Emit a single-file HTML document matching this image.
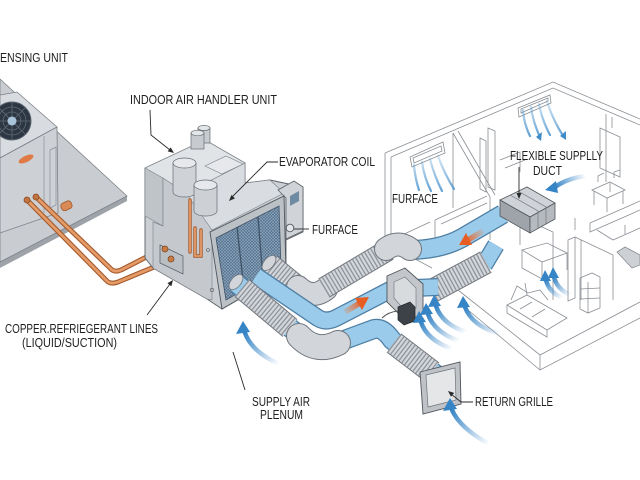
<!DOCTYPE html>
<html><head><meta charset="utf-8">
<style>
html,body{margin:0;padding:0;background:#fff;}
svg{display:block;}
text{font-family:"Liberation Sans",sans-serif;fill:#1e1e1e;font-size:12.5px;}
</style></head><body>
<svg width="640" height="480" viewBox="0 0 640 480" xmlns="http://www.w3.org/2000/svg">
<defs>
 <pattern id="mesh" width="3" height="3" patternUnits="userSpaceOnUse">
  <rect width="3" height="3" fill="#56718d"/>
  <path d="M0,0 L3,3 M3,0 L0,3" stroke="#8fa8bf" stroke-width="0.6"/>
 </pattern>
 <linearGradient id="g1" gradientUnits="userSpaceOnUse" x1="279" y1="364" x2="245" y2="333"><stop offset="0" stop-color="#3d88c8" stop-opacity="0"/><stop offset="1" stop-color="#3584c6"/></linearGradient>
 <linearGradient id="g2" gradientUnits="userSpaceOnUse" x1="489" y1="444" x2="452" y2="410"><stop offset="0" stop-color="#3d88c8" stop-opacity="0"/><stop offset="1" stop-color="#3584c6"/></linearGradient>
 <linearGradient id="g3a" gradientUnits="userSpaceOnUse" x1="452" y1="349" x2="421" y2="322"><stop offset="0" stop-color="#3d88c8" stop-opacity="0"/><stop offset="1" stop-color="#3584c6"/></linearGradient>
 <linearGradient id="g3b" gradientUnits="userSpaceOnUse" x1="459" y1="341" x2="428" y2="314"><stop offset="0" stop-color="#3d88c8" stop-opacity="0"/><stop offset="1" stop-color="#3584c6"/></linearGradient>
 <linearGradient id="g3c" gradientUnits="userSpaceOnUse" x1="466" y1="332" x2="436" y2="306"><stop offset="0" stop-color="#3d88c8" stop-opacity="0"/><stop offset="1" stop-color="#3584c6"/></linearGradient>
 <linearGradient id="g3d" gradientUnits="userSpaceOnUse" x1="500" y1="334" x2="465" y2="307"><stop offset="0" stop-color="#3d88c8" stop-opacity="0"/><stop offset="1" stop-color="#3584c6"/></linearGradient>
 <linearGradient id="g4a" gradientUnits="userSpaceOnUse" x1="562" y1="298" x2="546" y2="280"><stop offset="0" stop-color="#3d88c8" stop-opacity="0"/><stop offset="1" stop-color="#3584c6"/></linearGradient>
 <linearGradient id="g4b" gradientUnits="userSpaceOnUse" x1="570" y1="295" x2="554" y2="277"><stop offset="0" stop-color="#3d88c8" stop-opacity="0"/><stop offset="1" stop-color="#3584c6"/></linearGradient>
 <linearGradient id="g5" gradientUnits="userSpaceOnUse" x1="586" y1="176" x2="555" y2="187"><stop offset="0" stop-color="#3d88c8" stop-opacity="0"/><stop offset="1" stop-color="#3584c6"/></linearGradient>
 <linearGradient id="gv1" gradientUnits="userSpaceOnUse" x1="0" y1="100" x2="0" y2="140"><stop offset="0" stop-color="#5aa0d8" stop-opacity="0.25"/><stop offset="1" stop-color="#3f8cc9" stop-opacity="0.9"/></linearGradient>
 <linearGradient id="gv2" gradientUnits="userSpaceOnUse" x1="0" y1="155" x2="0" y2="193"><stop offset="0" stop-color="#5aa0d8" stop-opacity="0.25"/><stop offset="1" stop-color="#3f8cc9" stop-opacity="0.85"/></linearGradient>
 <linearGradient id="go1" gradientUnits="userSpaceOnUse" x1="343" y1="313" x2="362" y2="302"><stop offset="0" stop-color="#f07a3c" stop-opacity="0.1"/><stop offset="1" stop-color="#e85d22"/></linearGradient>
 <linearGradient id="go2" gradientUnits="userSpaceOnUse" x1="484" y1="230" x2="465" y2="241"><stop offset="0" stop-color="#f07a3c" stop-opacity="0.1"/><stop offset="1" stop-color="#e85d22"/></linearGradient>
</defs>

<rect width="640" height="480" fill="#ffffff"/>

<!-- ================= HOUSE (line drawing) ================= -->
<g fill="none" stroke="#8a8f95" stroke-width="0.8">
 <path d="M385,153 L553,82 L640,119"/>
 <path d="M391,157 L553,88 L640,125"/>
 <path d="M385,153 L385,243 M391,157 L391,238"/>
 <path d="M385,243 L432,268"/>
 <path d="M458,290 L540,355 L640,302"/>
 <path d="M540,355 L540,370 L640,318"/>
 <path d="M540,370 L462,305"/>
 <polygon points="410,157 443,142 445,153 412,167"/>
 <polygon points="413,158 441,146 442,151 414,163"/>
 <path d="M453,133 L453,208 M453,133 L490,197 L490,240 M458,131 L495,195"/>
 <path d="M435,220 L487,196 M435,220 L435,246 M441,224 L487,203"/>
 <path d="M400,236 L400,250 M400,236 L430,222"/>
 <polygon points="480,138 486,141 486,192 480,189"/>
 <polygon points="488,128 495,131 495,190 488,187"/>
 <polygon points="518,108 550,95 551,103 519,117"/>
 <polygon points="521,109 548,98 548,101 521,113"/>
 <path d="M500,160 L520,152 L520,172 M505,168 L525,160"/>
 <path d="M520,217 L553,232 L553,300 M520,217 L520,245"/>
 <polygon points="600,128 620,137 620,177 600,168"/>
 <path d="M606,114 L606,182 M612,117 L612,128"/>
 <polygon points="592,190 610,182 625,190 607,198"/>
 <path d="M594,191 L594,205 M607,198 L607,212 M623,191 L623,204 M610,183 L610,192"/>
 <path d="M598,182 L598,176 L604,173 M614,178 L614,172 L620,170"/>
 <path d="M590,223 L640,201 M590,223 L590,232 L640,210 M597,230 L613,240 L640,228"/>
 <path d="M575,218 L575,230 M625,225 L625,234"/>
 <polygon points="617,252 625,247 640,255 640,265 632,268" fill="#cdd1d5"/>
 <polygon points="568,240 575,237 575,298 568,301"/>
 <path d="M575,237 L613,255 L613,300 M581,240 L581,300"/>
 <polygon points="580,278 592,273 600,277 600,308 588,313 580,309"/>
 <path d="M580,289 L600,288 M580,299 L600,298 M588,282 L588,313"/>
 <polygon points="522,250 547,243 567,253 542,262"/>
 <path d="M522,250 L522,268 L542,279 L542,262 M567,253 L567,270"/>
 <polygon points="507,305 527,295 567,318 547,330"/>
 <path d="M507,305 L507,313 L547,337 L547,330 M511,300 L517,286 L528,293 L540,290 L548,300"/>
 <path d="M520,309 L532,302 M532,317 L545,309 M527,295 L525,283"/>
</g>

<g fill="none" stroke="url(#gv1)" stroke-width="2.2" stroke-linecap="round">
 <path d="M523,110 Q524,124 530,136"/>
 <path d="M531,107 Q533,122 540,137"/>
 <path d="M539,104 Q542,120 550,135"/>
 <path d="M547,101 Q552,118 562,134"/>
</g>
<g fill="#3f8cc9"><polygon points="536,137 542,132 541,141"/><polygon points="560,136 566,131 566,140"/></g>
<g fill="none" stroke="url(#gv2)" stroke-width="2.2" stroke-linecap="round">
 <path d="M414,165 Q415,178 419,190"/>
 <path d="M422,162 Q424,177 431,191"/>
 <path d="M430,159 Q434,175 442,191"/>
 <path d="M438,156 Q444,173 454,189"/>
</g>

<!-- ================= CONDENSER ================= -->
<polygon points="0,262 127,196 127,201 0,268" fill="#9ea3a9"/>
<polygon points="0,79 127,196 0,262" fill="#c9ccd0" stroke="#7d8288" stroke-width="0.8"/>
<polygon points="0,95 17,92 57,127 0,158" fill="#d8dbdf" stroke="#7b8086" stroke-width="0.8"/>
<polygon points="0,158 57,127 58,213 0,233" fill="#cdd0d5" stroke="#7b8086" stroke-width="0.8"/>
<path d="M44,136 L44,213 M50,150 L56,147 L56,205 L50,208 Z" fill="none" stroke="#8d9298" stroke-width="0.7"/>
<circle cx="12" cy="121" r="19" fill="#2d3743" stroke="#59636e" stroke-width="1"/>
<g stroke="#5d6a77" stroke-width="0.8" fill="none">
 <circle cx="12" cy="121" r="14"/><circle cx="12" cy="121" r="9"/>
 <path d="M12,102 L12,140 M-7,121 L31,121 M-1,108 L25,134 M25,108 L-1,134"/>
</g>
<circle cx="12" cy="121" r="4.5" fill="#a9c4d8"/>
<ellipse cx="26" cy="159" rx="8" ry="3.2" fill="#e07b45" transform="rotate(-25 26 159)"/>
<rect x="61" y="202" width="11" height="8" rx="3" fill="#d98a55" stroke="#9b5a30" stroke-width="0.8" transform="rotate(-25 66 206)"/>

<g fill="none" stroke-linecap="round" stroke-linejoin="round">
 <path d="M36,197 L110,268 Q114,273 121,270 L164,248" stroke="#a4592b" stroke-width="5"/>
 <path d="M36,197 L110,268 Q114,273 121,270 L164,248" stroke="#e49b68" stroke-width="2.8"/>
 <path d="M27,200 L106,280 Q110,285 118,282 L171,260" stroke="#a4592b" stroke-width="5"/>
 <path d="M27,200 L106,280 Q110,285 118,282 L171,260" stroke="#e49b68" stroke-width="2.8"/>
</g>
<circle cx="36" cy="197" r="3" fill="#c27340" stroke="#8a4b22" stroke-width="0.8"/>
<circle cx="27" cy="200" r="3" fill="#c27340" stroke="#8a4b22" stroke-width="0.8"/>

<!-- ================= AIR HANDLER ================= -->
<polygon points="145,168 205,140 245,163 245,183 270,180 303,187 303,232 286,240 286,272 222,309 207,299 153,268 145,258" fill="#cbcfd4" stroke="#5a6066" stroke-width="0.9"/>
<polygon points="145,168 205,140 245,163 186,193" fill="#e1e4e7" stroke="#7a8087" stroke-width="0.6"/>
<polygon points="145,168 163,178 163,226 145,216" fill="#bfc4c9" stroke="#7a8087" stroke-width="0.6"/>
<polygon points="163,178 186,193 212,207 212,300 207,299 153,268 153,222 163,226" fill="#c5c9ce" stroke="#7a8087" stroke-width="0.6"/>
<polygon points="186,193 245,163 245,183 270,180 284,193 212,230" fill="#d9dce0" stroke="#7a8087" stroke-width="0.6"/>
<polygon points="205,166 226,156 243,164 222,174" fill="#e6e8eb" stroke="#7a8087" stroke-width="0.6"/>
<g stroke="#666c72" stroke-width="0.7">
 <rect x="198" y="128" width="12" height="15" fill="#c7cbd0"/><ellipse cx="204" cy="128" rx="6" ry="2.6" fill="#e3e6e9"/>
 <rect x="191" y="133" width="13" height="16" fill="#c7cbd0"/><ellipse cx="197.5" cy="133" rx="6.5" ry="2.8" fill="#e3e6e9"/>
 <path d="M173,163 L173,192 A11.5,5 0 0 0 196,192 L196,163" fill="#cfd3d7"/><ellipse cx="184.5" cy="163" rx="11.5" ry="5" fill="#e6e8eb"/>
 <path d="M194,185 L194,211 A11.5,5 0 0 0 217,211 L217,185" fill="#cdd1d5"/><ellipse cx="205.5" cy="185" rx="11.5" ry="5" fill="#e6e8eb"/>
</g>
<g fill="none" stroke-linecap="round">
 <path d="M190,200 L190,252 M195,228 L195,256 L201,256 L201,230" stroke="#a4592b" stroke-width="3.4"/>
 <path d="M190,200 L190,252 M195,228 L195,256 L201,256 L201,230" stroke="#e49b68" stroke-width="1.8"/>
</g>
<polygon points="160,245 183,256 183,274 160,263" fill="#babfc4" stroke="#555b61" stroke-width="0.7"/>
<circle cx="165" cy="249" r="3" fill="#c97b45" stroke="#7a4420" stroke-width="0.7"/>
<circle cx="171" cy="259" r="3" fill="#c97b45" stroke="#7a4420" stroke-width="0.7"/>
<circle cx="212" cy="290" r="1.8" fill="none" stroke="#555" stroke-width="0.6"/>
<circle cx="208" cy="250" r="1.5" fill="none" stroke="#555" stroke-width="0.6"/>
<polygon points="278,190 294,181 303,187 303,231 286,239 286,198" fill="#d0d3d7" stroke="#5a6066" stroke-width="0.8"/>
<polygon points="290,196 299,191 299,201 290,206" fill="#6f8aa3"/>
<circle cx="290" cy="228" r="3.8" fill="#e4e6e9" stroke="#555b61" stroke-width="0.9"/>
<polygon points="210,232 284,196 286,272 222,309" fill="#bcc1c6" stroke="#4f555b" stroke-width="0.9"/>
<polygon points="216,238 279,206 281,268 226,300" fill="url(#mesh)" stroke="#3f5368" stroke-width="0.8"/>
<path d="M237,227 L244,289 M258,217 L263,279" stroke="#3f5368" stroke-width="1.3"/>

<!-- ================= DUCTS ================= -->
<g fill="none" stroke-linejoin="round">
 <path d="M408,250 Q440,250 462,238 L503,214" stroke="#4e7ea3" stroke-width="20"/>
 <path d="M408,250 Q440,250 462,238 L503,214" stroke="#9bcbea" stroke-width="17.5"/>
 <path d="M270,264 L302,290" stroke="#6f757c" stroke-width="22"/>
 <path d="M270,264 L302,290" stroke="#d3d6da" stroke-width="20"/>
 <path d="M270,264 L302,290" stroke="#8e949b" stroke-width="20" stroke-dasharray="1.3 2.2"/>
 <path d="M298,287 Q312,300 326,289" stroke="#6f757c" stroke-width="24" stroke-linecap="round"/>
 <path d="M298,287 Q312,300 326,289" stroke="#d2d5d9" stroke-width="22" stroke-linecap="round"/>
 <path d="M324,288 L388,250" stroke="#6f757c" stroke-width="22"/>
 <path d="M324,288 L388,250" stroke="#d3d6da" stroke-width="20"/>
 <path d="M324,288 L388,250" stroke="#8e949b" stroke-width="20" stroke-dasharray="1.3 2.2"/>
 <path d="M386,249 Q398,240 410,249" stroke="#6f757c" stroke-width="24" stroke-linecap="round"/>
 <path d="M386,249 Q398,240 410,249" stroke="#d2d5d9" stroke-width="22" stroke-linecap="round"/>
 <path d="M484,265 L496,245" stroke="#4e7ea3" stroke-width="18"/>
 <path d="M484,265 L496,245" stroke="#9bcbea" stroke-width="15.5"/>
 <path d="M432,291 L486,262" stroke="#6f757c" stroke-width="24"/>
 <path d="M432,291 L486,262" stroke="#d3d6da" stroke-width="22"/>
 <path d="M432,291 L486,262" stroke="#8e949b" stroke-width="22" stroke-dasharray="1.3 2.2"/>
 <path d="M256,276 L318,318 Q326,323 336,318 L392,289 L438,287" stroke="#4e7ea3" stroke-width="18"/>
 <path d="M256,276 L318,318 Q326,323 336,318 L392,289 L438,287" stroke="#9bcbea" stroke-width="15.5"/>
 <path d="M236,283 L300,336 Q317,352 336,343 L374,329 Q383,327 392,340 L438,376" stroke="#4e7ea3" stroke-width="20"/>
 <path d="M236,283 L300,336 Q317,352 336,343 L374,329 Q383,327 392,340 L438,376" stroke="#9bcbea" stroke-width="17.5"/>
 <path d="M242,288 L290,328" stroke="#6f757c" stroke-width="23"/>
 <path d="M242,288 L290,328" stroke="#d3d6da" stroke-width="21"/>
 <path d="M242,288 L290,328" stroke="#8e949b" stroke-width="21" stroke-dasharray="1.3 2.2"/>
 <path d="M299,336 Q316,354 338,343" stroke="#6f757c" stroke-width="26" stroke-linecap="round"/>
 <path d="M299,336 Q316,354 338,343" stroke="#d2d5d9" stroke-width="24" stroke-linecap="round"/>
 <path d="M394,343 L432,372" stroke="#6f757c" stroke-width="24"/>
 <path d="M394,343 L432,372" stroke="#d3d6da" stroke-width="22"/>
 <path d="M394,343 L432,372" stroke="#8e949b" stroke-width="22" stroke-dasharray="1.3 2.2"/>
</g>
<ellipse cx="236" cy="282" rx="9" ry="5" fill="#d2d5d9" stroke="#6f757c" stroke-width="0.8" transform="rotate(-50 236 282)"/>
<ellipse cx="269" cy="263" rx="9" ry="5" fill="#d2d5d9" stroke="#6f757c" stroke-width="0.8" transform="rotate(-50 269 263)"/>

<polygon points="500,200 527,187 555,203 530,217" fill="#cfd2d6" stroke="#4f555b" stroke-width="0.8"/>
<polygon points="500,200 530,217 530,233 500,216" fill="#9fa4aa" stroke="#4f555b" stroke-width="0.8"/>
<polygon points="530,217 555,203 555,219 530,233" fill="#b6babf" stroke="#4f555b" stroke-width="0.8"/>
<path d="M510,195 L538,211 L538,229 M518,191 L546,207 L546,224" fill="none" stroke="#6f757c" stroke-width="0.7"/>

<polygon points="387,276 405,268 423,284 423,314 406,321 387,302" fill="#c3c7cc" stroke="#4f555b" stroke-width="0.9"/>
<polygon points="394,282 405,277 416,288 416,308 406,312 394,298" fill="#d8dbde" stroke="#6f757c" stroke-width="0.6"/>
<polygon points="398,307 410,302 415,307 415,321 404,325 398,320" fill="#3c4248" stroke="#23272b" stroke-width="0.7"/>
<path d="M382,318 Q388,312 398,311" fill="none" stroke="#555" stroke-width="1"/>

<ellipse cx="438" cy="377" rx="10" ry="7" fill="#d2d5d9" stroke="#6f757c" stroke-width="0.8" transform="rotate(-40 438 377)"/>
<polygon points="420,372 460,362 461,404 423,414" fill="#bfc3c8" stroke="#4f555b" stroke-width="0.9"/>
<polygon points="426,375 455,368 456,400 428,407" fill="#e4e6e8" stroke="#6f757c" stroke-width="0.7"/>

<path d="M345,312 L360,303" stroke="url(#go1)" stroke-width="5.5" fill="none"/>
<polygon points="369,297 355,298 362,310" fill="#e85d22"/>
<path d="M483,231 L468,240" stroke="url(#go2)" stroke-width="5.5" fill="none"/>
<polygon points="459,245 466,233 472,245" fill="#e85d22"/>

<g fill="none" stroke-width="4.5" stroke-linecap="round">
 <path d="M279,364 Q252,352 245,333" stroke="url(#g1)"/>
 <path d="M489,444 Q460,428 452,410" stroke="url(#g2)"/>
 <path d="M452,349 Q427,340 421,322" stroke="url(#g3a)"/>
 <path d="M459,341 Q434,332 428,314" stroke="url(#g3b)"/>
 <path d="M466,332 Q442,324 436,306" stroke="url(#g3c)"/>
 <path d="M500,334 Q472,326 465,307" stroke="url(#g3d)"/>
 <path d="M562,298 Q549,292 546,280" stroke="url(#g4a)"/>
 <path d="M570,295 Q557,289 554,277" stroke="url(#g4b)"/>
 <path d="M586,176 Q568,178 555,187" stroke="url(#g5)"/>
</g>
<g fill="#3584c6">
 <polygon points="243,321 236,334 250,332"/>
 <polygon points="450,398 443,411 457,409"/>
 <polygon points="419,311 413,323 426,322"/>
 <polygon points="426,303 420,315 433,314"/>
 <polygon points="434,295 428,307 441,306"/>
 <polygon points="463,296 457,308 470,307"/>
 <polygon points="545,270 540,281 551,281"/>
 <polygon points="553,267 548,278 559,278"/>
 <polygon points="545,190 556,181 558,193"/>
</g>

<g fill="none" stroke="#2a2a2a" stroke-width="0.9">
 <path d="M150,110 L151,135 L170,150"/>
 <path d="M278,162 L267,162 L232,197"/>
 <path d="M309,229 L294,229"/>
 <path d="M519,167 L519,194"/>
 <path d="M147,315 L170,284"/>
 <path d="M245,390 L233,352"/>
 <path d="M473,402 L461,402 L451,394"/>
</g>
<g fill="#2a2a2a">
 <polygon points="174,153 167.7,151.4 170.7,147.4"/>
 <polygon points="229,201 235,198.4 231.4,195"/>
 <polygon points="519,199 516.5,193 521.5,193"/>
 <polygon points="173,280 171.4,286.3 167.4,283.3"/>
 <polygon points="448,391 454.2,392.9 451,396.7"/>
</g>

<text x="0" y="62" textLength="68" lengthAdjust="spacingAndGlyphs">ENSING UNIT</text>
<text x="130" y="104" textLength="147" lengthAdjust="spacingAndGlyphs">INDOOR AIR HANDLER UNIT</text>
<text x="279" y="166" textLength="96" lengthAdjust="spacingAndGlyphs">EVAPORATOR COIL</text>
<text x="312" y="234" textLength="46" lengthAdjust="spacingAndGlyphs">FURFACE</text>
<text x="392" y="203" textLength="46" lengthAdjust="spacingAndGlyphs">FURFACE</text>
<text x="510" y="160" textLength="93" lengthAdjust="spacingAndGlyphs">FLEXIBLE SUPPLLY</text>
<text x="533" y="175" textLength="29" lengthAdjust="spacingAndGlyphs">DUCT</text>
<text x="5" y="333" textLength="153" lengthAdjust="spacingAndGlyphs">COPPER.REFRIEGERANT LINES</text>
<text x="22" y="347" textLength="95" lengthAdjust="spacingAndGlyphs">(LIQUID/SUCTION)</text>
<text x="252" y="406" textLength="58" lengthAdjust="spacingAndGlyphs">SUPPLY AIR</text>
<text x="260" y="419" textLength="43" lengthAdjust="spacingAndGlyphs">PLENUM</text>
<text x="475" y="406" textLength="78" lengthAdjust="spacingAndGlyphs">RETURN GRILLE</text>
</svg>
</body></html>
